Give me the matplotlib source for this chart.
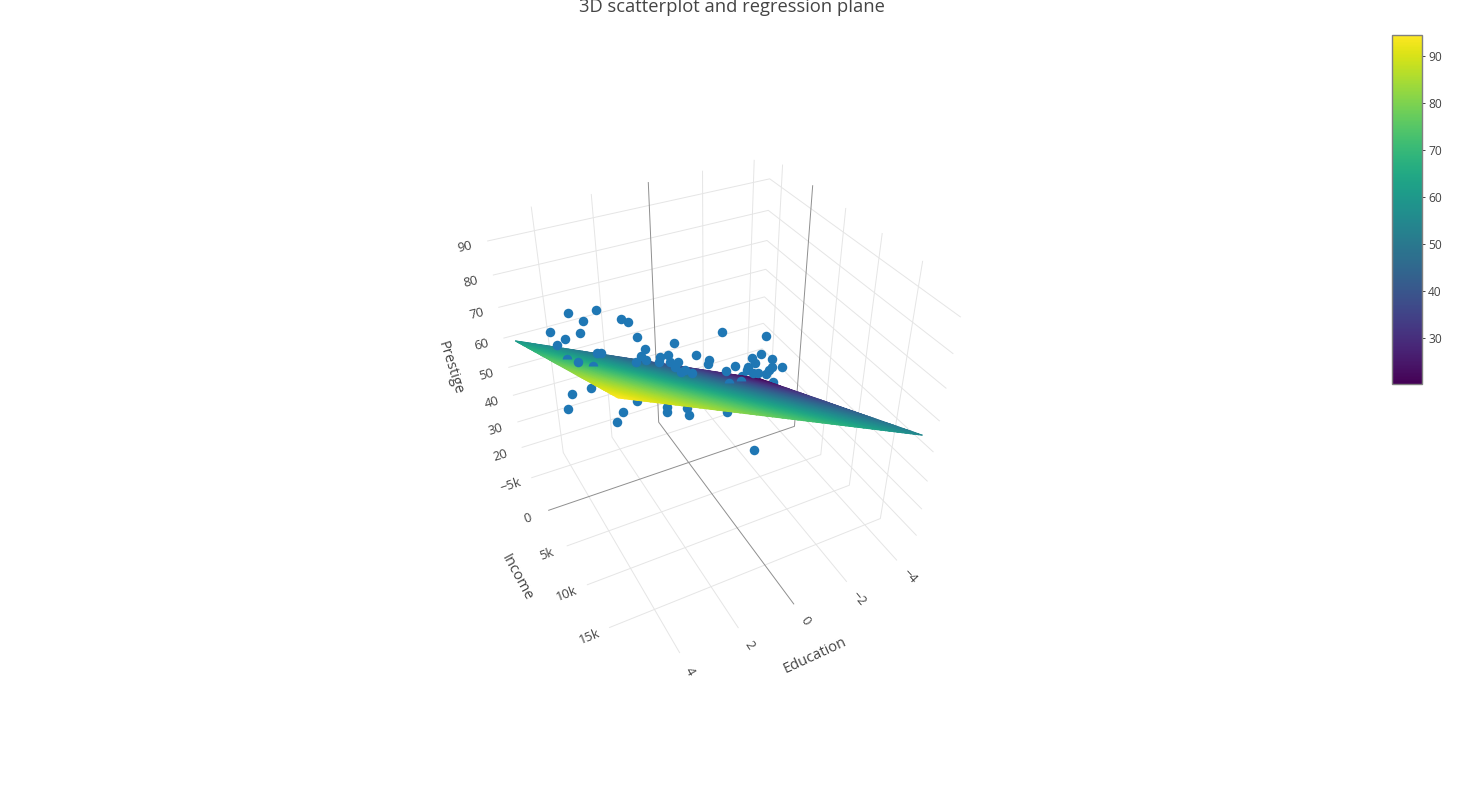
import numpy as np
import matplotlib
matplotlib.use('Agg')
import matplotlib.pyplot as plt
from matplotlib.cm import ScalarMappable
from matplotlib.colors import Normalize
from matplotlib.patches import Rectangle

plt.rcParams['font.family'] = ['Open Sans', 'DejaVu Sans']

education = [3.56,2.64,3.12,1.87,1.65,4.27,3.30,1.47,3.83,4.12,2.89,2.74,4.43,4.39,3.93,1.67,1.46,3.33,4.01,4.27,2.50,2.77,1.94,2.77,-1.38,-2.76,0.28,1.27,1.32,0.83,0.89,0.54,0.54,0.26,0.41,0.11,0.31,-0.10,-0.38,-0.77,-0.69,-1.57,-1.23,-2.18,-2.49,-2.80,-2.22,-1.99,-3.08,-2.74,-2.64,-2.51,-2.27,-2.11,-1.92,-3.86,-4.96,0.97,1.02,0.33,0.32,-0.97,-1.50,-1.28,-2.39]
income = [-4021,-3685,-3610,-3016,-2790,-3723,-3321,-2184,-3349,-3289,-2478,-2399,1912,4612,4375,-1398,-1510,-1401,-1472,-1002,149,421,32,-1138,-8,1658,-1092,-1628,-1246,-1006,-865,-866,-587,-352,-279,105,444,424,-70,488,590,1554,1442,1876,2096,2689,2180,2065,3398,2982,3016,3036,2677,2510,2152,-7623,-5834,1026,1247,1617,2013,3133,5885,1849,-1007]
prestige = [69.0,68.2,66.1,64.7,63.6,65.0,63.1,59.3,62.3,61.4,57.1,56.9,67.8,71.9,69.0,52.7,54.2,48.5,48.0,44.7,40.7,38.6,42.7,47.9,57.7,56.1,56.2,55.8,52.8,53.1,51.9,53.3,51.5,51.1,50.0,48.8,49.3,47.8,52.3,50.7,49.7,48.6,47.4,50.5,51.3,50.0,49.0,48.2,47.9,47.9,47.0,46.0,46.5,46.4,47.3,19.9,17.8,40.0,38.7,39.1,37.1,36.9,27.3,44.0,35.6]

# regression plane: height at the corners, rows by education, columns by income
plane_education = [-4.36, 5.23]
plane_income = [-6187, 19081]
plane_height = [[20.38, 54.74], [60.06, 94.42]]

edu_range = [-4.66, 5.53]
inc_range = [-7100, 19826]
pre_range = [12.89, 96.85]

edu_ticks = [-4, -2, 0, 2, 4]
inc_ticks = [-5000, 0, 5000, 10000, 15000]
pre_ticks = [20, 30, 40, 50, 60, 70, 80, 90]
edu_labels = ['\u22124', '\u22122', '0', '2', '4']
inc_labels = ['\u22125k', '0', '5k', '10k', '15k']

# camera fitted on the grid line ends of the reference
camera = np.array([[-170.64926, -12.1842, -67.37827, 686.90838],
                   [16.94207, 24.56135, -148.96351, 365.09444],
                   [-0.05926, -0.0882, -0.09513, 1.0]])

GRID = '#e5e5e5'
ZERO = '#8f8f8f'
INK = '#444444'
BLUE = '#1f77b4'


def project(e, i, z):
    e, i, z = np.broadcast_arrays(np.asarray(e, float), np.asarray(i, float), np.asarray(z, float))
    h = np.stack([e / 5.0, i / 10000.0, (z - 50.0) / 40.0, np.ones(e.shape)])
    sx, sy, sw = np.tensordot(camera, h, axes=1)
    return sx / sw, sy / sw


def plane_at(e, i):
    e = (np.asarray(e, float) - plane_education[0]) / (plane_education[1] - plane_education[0])
    i = (np.asarray(i, float) - plane_income[0]) / (plane_income[1] - plane_income[0])
    h = plane_height
    return ((1 - e) * (1 - i) * h[0][0] + (1 - e) * i * h[0][1]
            + e * (1 - i) * h[1][0] + e * i * h[1][1])


def line3d(ax, e, i, z, colour, order=1):
    x, y = project(e, i, z)
    ax.plot(x, y, color=colour, lw=0.7, zorder=order, solid_capstyle='butt')


def tick_label(ax, text, e0, i0, z0, e1, i1, z1, gap, clip=None):
    # label sits past the line end (e0, i0, z0), turned along the line
    x0, y0 = project(e0, i0, z0)
    x1, y1 = project(e1, i1, z1)
    dx, dy = x0 - x1, y0 - y1
    n = np.hypot(dx, dy)
    angle = np.degrees(np.arctan2(-dy, dx))
    if angle > 90:
        angle -= 180
    elif angle < -90:
        angle += 180
    t = ax.text(x0 + gap * dx / n, y0 + gap * dy / n + 1.2, text, color=INK, fontsize=9.3,
                rotation=angle, rotation_mode='anchor', ha='center', va='center')
    if clip is not None:
        t.set_clip_path(clip)
    return t


fig = plt.figure(figsize=(14.63, 8.02), dpi=100)
ax = fig.add_axes([0, 0, 1, 1])
ax.set_xlim(0, 1463)
ax.set_ylim(802, 0)
ax.axis('off')

e0, e1 = edu_range
i0, i1 = inc_range
z0, z1 = pre_range

for z in pre_ticks:
    line3d(ax, [e1, e0, e0], [i0, i0, i1], z, GRID)
for e in edu_ticks:
    if e == 0:
        line3d(ax, e, [i1, i0, i0], [z0, z0, z1], ZERO, order=1.5)
    else:
        line3d(ax, e, [i1, i0, i0], [z0, z0, z1], GRID)
for i in inc_ticks:
    if i == 0:
        line3d(ax, [e1, e0, e0], i, [z0, z0, z1], ZERO, order=1.5)
    else:
        line3d(ax, [e1, e0, e0], i, [z0, z0, z1], GRID)

# plane, cut finer only so that the colour follows the perspective
ee, ii = np.meshgrid(np.linspace(plane_education[0], plane_education[1], 60),
                     np.linspace(plane_income[0], plane_income[1], 60), indexing='ij')
zz = plane_at(ee, ii)
px, py = project(ee, ii, zz)
ax.pcolormesh(px, py, zz, shading='gouraud', cmap='viridis', vmin=20.3, vmax=94.42, zorder=3)

# points behind the plane go under it, those crossing it show only their top
ex = np.array(education)
ix = np.array(income)
zx = np.array(prestige)
gap = zx - plane_at(ex, ix)
sx, sy = project(ex, ix, zx)
ax.scatter(sx[gap < -0.3], sy[gap < -0.3], s=47, color=BLUE, linewidths=0, zorder=2)
ax.scatter(sx[gap > 0.3], sy[gap > 0.3], s=47, color=BLUE, linewidths=0, zorder=4)
cross = np.abs(gap) <= 0.3
ax.plot(sx[cross], sy[cross], 'o', ms=6.85, color=BLUE, fillstyle='top', markerfacecoloralt='none',
        markeredgewidth=0, linestyle='none', zorder=4)

# tick labels, the lowest row is cut by the bottom of the scene
scene = Rectangle((0, 0), 1463, 674.5, transform=ax.transData, fill=False, edgecolor='none')
ax.add_patch(scene)
for z in pre_ticks:
    tick_label(ax, str(z), e1, i0, z, e0, i0, z, 22.5)
for t, s in zip(edu_ticks, edu_labels):
    tick_label(ax, s, t, i1, z0, t, i0, z0, 19.5, clip=scene)
for t, s in zip(inc_ticks, inc_labels):
    tick_label(ax, s, e1, t, z0, e0, t, z0, 21.5)

ax.text(450.5, 368.5, 'Prestige', color=INK, fontsize=10.5, rotation=-72.5, rotation_mode='anchor', ha='center', va='center')
ax.text(516.5, 578, 'Income', color=INK, fontsize=10.5, rotation=-61.5, rotation_mode='anchor', ha='center', va='center')
ax.text(815, 655.5, 'Education', color=INK, fontsize=10.5, rotation=24.8, rotation_mode='anchor', ha='center', va='center')

ax.text(731.5, 7.5, '3D scatterplot and regression plane', color=INK, fontsize=13.2, ha='center', va='center')

# colour bar
cax = fig.add_axes([1392 / 1463, 1 - 384 / 802, 30 / 1463, 349 / 802])
bar = fig.colorbar(ScalarMappable(Normalize(20.3, 94.42), 'viridis'), cax=cax,
                   ticks=[30, 40, 50, 60, 70, 80, 90])
bar.outline.set_edgecolor('#808080')
bar.outline.set_linewidth(1.0)
bar.ax.tick_params(length=2.5, width=0.7, color=INK, labelcolor=INK, labelsize=8.64, pad=2)

fig.savefig('out.png', dpi=100)
